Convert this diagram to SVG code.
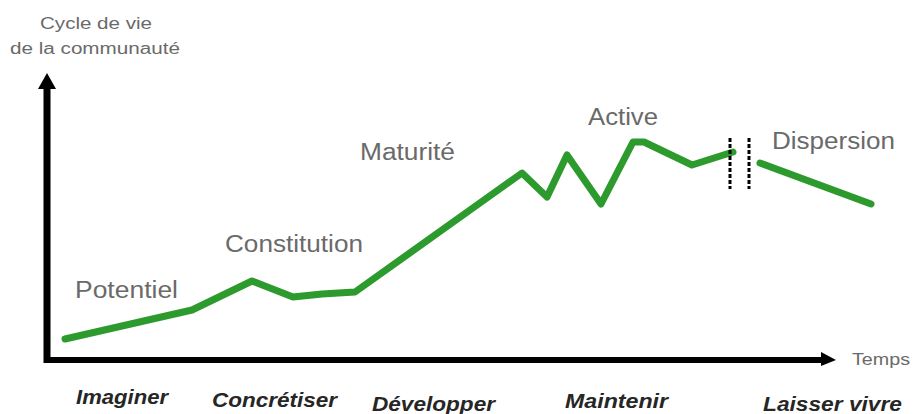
<svg xmlns="http://www.w3.org/2000/svg" width="915" height="414" viewBox="0 0 915 414">
<defs>
<style>
.lbl{font-family:"Liberation Sans",Arial,sans-serif;fill:#6a6a6a;}
.big{font-size:23px;}
.small{font-size:16px;}
.verb{font-family:"Liberation Sans",Arial,sans-serif;font-size:21px;font-weight:bold;font-style:italic;fill:#262626;}
.curve{fill:none;stroke:#2c9a2c;stroke-width:7;stroke-linejoin:round;stroke-linecap:round;}
.axis{stroke:#000;stroke-width:7;fill:none;}
.brk{stroke:#000;stroke-width:3;stroke-dasharray:4 2;fill:none;}
</style>
</defs>
<rect width="915" height="414" fill="#fff"/>
<g id="axes">
<line class="axis" x1="47" y1="86" x2="47" y2="363"/>
<polygon points="47,73 38,89 56,89" fill="#000"/>
<line x1="44" y1="360" x2="824" y2="360" stroke="#000" stroke-width="6"/>
<polygon points="821,352 836,360 821,366" fill="#000"/>
</g>
<g id="axis-labels">
<text class="lbl small" x="40" y="29" textLength="112" lengthAdjust="spacingAndGlyphs">Cycle de vie</text>
<text class="lbl small" x="10" y="54" textLength="170" lengthAdjust="spacingAndGlyphs">de la communauté</text>
<text class="lbl small" x="852" y="365" textLength="58" lengthAdjust="spacingAndGlyphs">Temps</text>
</g>
<g id="connectors">
<polyline class="curve" points="65,339 192,310 252,281 293,297 322,294 355,292 522,173 547,197 567,155 601,204 633,142 644,142 692,165 733,152"/>
<line class="curve" x1="760" y1="163" x2="871" y2="204"/>
<line class="brk" x1="730" y1="138" x2="730" y2="189"/>
<line class="brk" x1="749" y1="138" x2="749" y2="189"/>
</g>
<g id="phase-potentiel"><text class="lbl big" x="75" y="298" textLength="103" lengthAdjust="spacingAndGlyphs">Potentiel</text></g>
<g id="phase-constitution"><text class="lbl big" x="225" y="252" textLength="138" lengthAdjust="spacingAndGlyphs">Constitution</text></g>
<g id="phase-maturite"><text class="lbl big" x="360" y="160" textLength="95" lengthAdjust="spacingAndGlyphs">Maturité</text></g>
<g id="phase-active"><text class="lbl big" x="588" y="125" textLength="70" lengthAdjust="spacingAndGlyphs">Active</text></g>
<g id="phase-dispersion"><text class="lbl big" x="772" y="149" textLength="123" lengthAdjust="spacingAndGlyphs">Dispersion</text></g>
<g id="verb-imaginer"><text class="verb" x="76" y="404" textLength="92" lengthAdjust="spacingAndGlyphs">Imaginer</text></g>
<g id="verb-concretiser"><text class="verb" x="212" y="407" textLength="125" lengthAdjust="spacingAndGlyphs">Concrétiser</text></g>
<g id="verb-developper"><text class="verb" x="372" y="411" textLength="123" lengthAdjust="spacingAndGlyphs">Développer</text></g>
<g id="verb-maintenir"><text class="verb" x="565" y="408" textLength="103" lengthAdjust="spacingAndGlyphs">Maintenir</text></g>
<g id="verb-laisser-vivre"><text class="verb" x="763" y="411" textLength="139" lengthAdjust="spacingAndGlyphs">Laisser vivre</text></g>
</svg>
